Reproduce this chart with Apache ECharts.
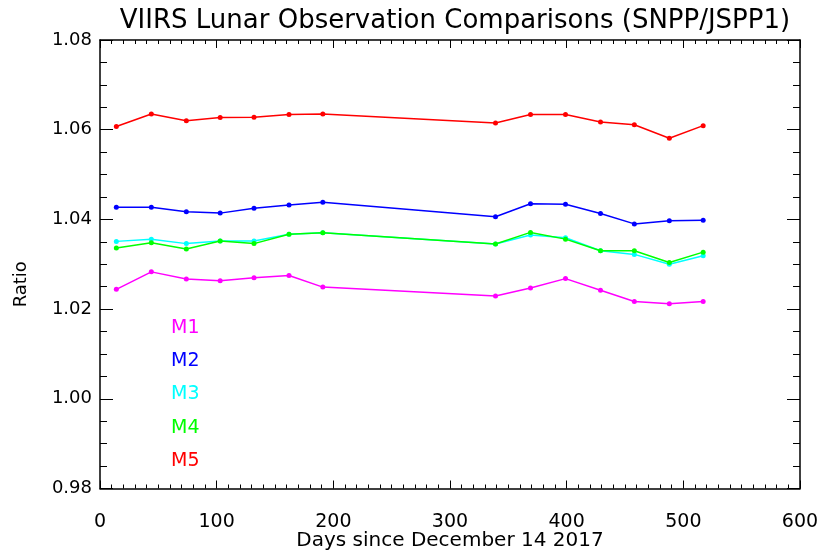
<!DOCTYPE html>
<html>
<head>
<meta charset="utf-8">
<script src="https://cdn.jsdelivr.net/npm/echarts@6/dist/echarts.min.js"></script>
<style>html,body{margin:0;padding:0;background:#fff}#c{width:821px;height:555px}</style>
</head>
<body>
<div id="c"></div>
<script>
const days = [14, 44, 74, 103, 132, 162, 191, 339, 369, 399, 429, 458, 488, 517];
const m1 = [1.0244, 1.0283, 1.0267, 1.0263, 1.0270, 1.0275, 1.0249, 1.0229, 1.0247, 1.0268, 1.0242, 1.0217, 1.0212, 1.0217];
const m2 = [1.0427, 1.0427, 1.0417, 1.0414, 1.0425, 1.0432, 1.0438, 1.0406, 1.0435, 1.0434, 1.0413, 1.0390, 1.0397, 1.0398];
const m3 = [1.0351, 1.0356, 1.0346, 1.0352, 1.0352, 1.0367, 1.0370, 1.0345, 1.0365, 1.0359, 1.0330, 1.0322, 1.0300, 1.0319];
const m4 = [1.0336, 1.0348, 1.0334, 1.0352, 1.0346, 1.0367, 1.0370, 1.0345, 1.0371, 1.0356, 1.0330, 1.0330, 1.0304, 1.0327];
const m5 = [1.0607, 1.0635, 1.0620, 1.0627, 1.0628, 1.0634, 1.0635, 1.0615, 1.0634, 1.0634, 1.0617, 1.0611, 1.0581, 1.0609];
const bandNames = ['M1', 'M2', 'M3', 'M4', 'M5'];
const bandColors = ['#ff00ff', '#0000ff', '#00ffff', '#00ff00', '#ff0000'];
const bandValues = [m1, m2, m3, m4, m5];
const titleText = 'VIIRS Lunar Observation Comparisons (SNPP/JSPP1)';
const xTitle = 'Days since December 14 2017';
const yTitle = 'Ratio';

const FONT = 'DejaVu Sans';
const chart = echarts.init(document.getElementById('c'), null, {renderer: 'canvas'});

const series = bandNames.map((n, i) => ({
  name: n,
  type: 'line',
  data: days.map((d, j) => [d, bandValues[i][j]]),
  symbol: 'circle',
  symbolSize: 5,
  showSymbol: true,
  itemStyle: {color: bandColors[i]},
  lineStyle: {color: bandColors[i], width: 1.5},
  emphasis: {disabled: true},
  animation: false,
  z: 2 + i
}));

const xCommon = {
  type: 'value', min: 0, max: 600, interval: 100,
  axisLine: {show: true, onZero: false, lineStyle: {color: '#000', width: 1.5}},
  axisTick: {show: true, inside: true, length: 8, lineStyle: {color: '#000', width: 1}},
  minorTick: {show: true, splitNumber: 10, length: 4, lineStyle: {color: '#000', width: 1}},
  splitLine: {show: false}
};
const yCommon = {
  type: 'value', min: 0.98, max: 1.08, interval: 0.02,
  axisLine: {show: true, onZero: false, lineStyle: {color: '#000', width: 1.5}},
  axisTick: {show: true, inside: true, length: 13, lineStyle: {color: '#000', width: 1}},
  minorTick: {show: true, splitNumber: 4, length: 7, lineStyle: {color: '#000', width: 1}},
  splitLine: {show: false}
};

chart.setOption({
  backgroundColor: '#fff',
  animation: false,
  title: {
    text: titleText, left: 450, top: 3, textAlign: 'center',
    textStyle: {fontFamily: FONT, fontSize: 26, fontWeight: 'normal', color: '#000'}
  },
  grid: {left: 100, right: 21, top: 40, bottom: 66.5, containLabel: false, outerBoundsMode: 'none'},
  legend: {
    orient: 'vertical', left: 161, top: 313,
    icon: 'none', itemWidth: 0, itemHeight: 20, itemGap: 13.7,
    selectedMode: false,
    data: bandNames.map((n, i) => ({name: n, textStyle: {color: bandColors[i]}})),
    textStyle: {fontFamily: FONT, fontSize: 19}
  },
  xAxis: [
    Object.assign({}, xCommon, {
      position: 'bottom',
      name: xTitle, nameLocation: 'middle', nameGap: 42, nameMoveOverlap: false,
      nameTextStyle: {fontFamily: FONT, fontSize: 20, color: '#000'},
      axisLabel: {show: true, margin: 24, fontFamily: FONT, fontSize: 19, color: '#000'}
    }),
    Object.assign({}, xCommon, {position: 'top', axisLabel: {show: false}})
  ],
  yAxis: [
    Object.assign({}, yCommon, {
      position: 'left',
      name: yTitle, nameLocation: 'middle', nameGap: 70, nameMoveOverlap: false,
      nameTextStyle: {fontFamily: FONT, fontSize: 18, color: '#000', padding: [0, 40, 0, 0]},
      axisLabel: {show: true, margin: 8, fontFamily: FONT, fontSize: 18, color: '#000',
        formatter: v => v.toFixed(2)}
    }),
    Object.assign({}, yCommon, {position: 'right', axisLabel: {show: false}})
  ],
  series: series
});
</script>
</body>
</html>
